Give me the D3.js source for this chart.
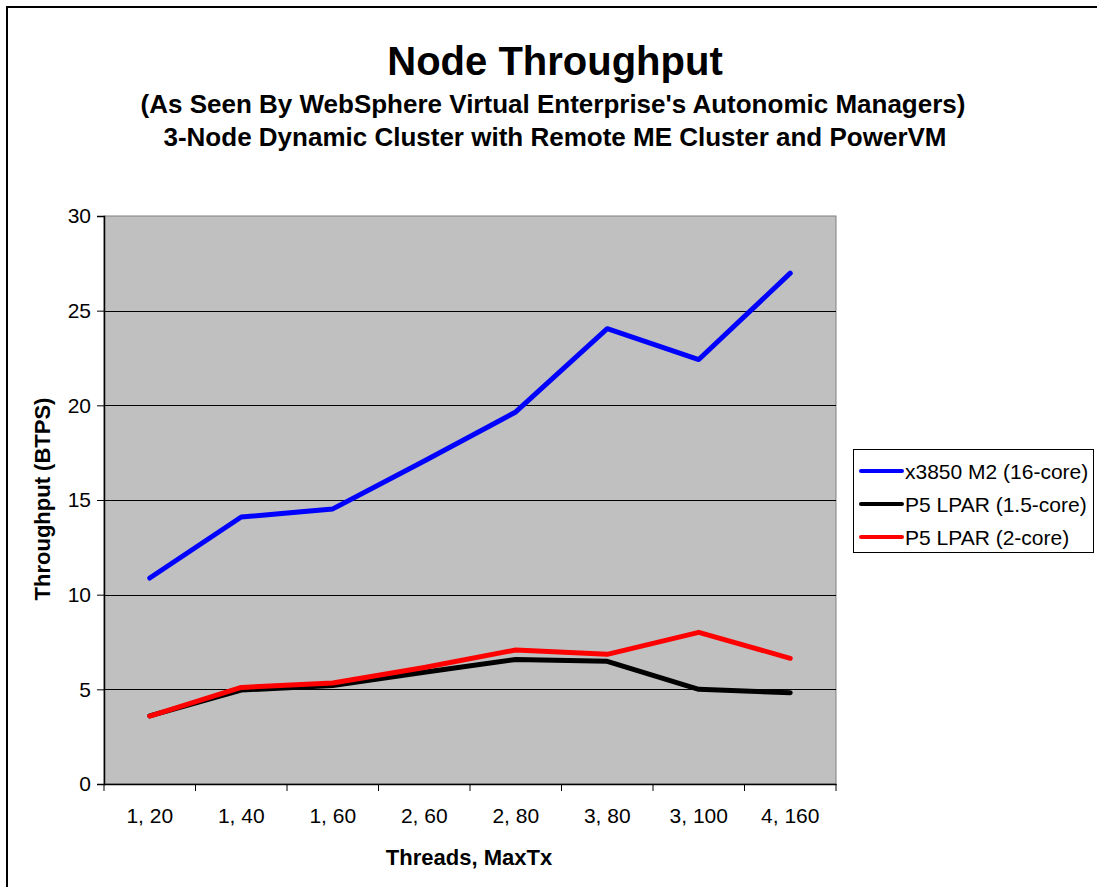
<!DOCTYPE html>
<html>
<head>
<meta charset="utf-8">
<script src="https://cdn.jsdelivr.net/npm/d3@7"></script>
<style>
  body { margin: 0; background: #fff; }
  svg { display: block; font-family: "Liberation Sans", Arial, sans-serif; }
</style>
</head>
<body>
<div id="chart"></div>
<script>
var categories = ["1, 20", "1, 40", "1, 60", "2, 60", "2, 80", "3, 80", "3, 100", "4, 160"];
var x3850 = [10.88, 14.1, 14.53, 17.06, 19.65, 24.05, 22.42, 26.98];
var p5Core15 = [3.6, 4.96, 5.2, 5.9, 6.58, 6.48, 5.0, 4.82];
var p5Core2 = [3.59, 5.1, 5.33, 6.15, 7.08, 6.85, 8.01, 6.64];
var seriesNames = ["x3850 M2 (16-core)", "P5 LPAR (1.5-core)", "P5 LPAR (2-core)"];
var seriesColors = ["#0000ff", "#000000", "#ff0000"];
var yTicks = [0, 5, 10, 15, 20, 25, 30];

var W = 1097, H = 887;
var plot = { left: 104, top: 216, right: 836, bottom: 784 };
var FONT = "Liberation Sans, Arial, sans-serif";

var svg = d3.select("#chart").append("svg")
  .attr("width", W)
  .attr("height", H);

// outer frame (runs off the right and bottom edges)
svg.append("rect")
  .attr("x", 7).attr("y", 7)
  .attr("width", W + 20).attr("height", H + 20)
  .attr("fill", "#fff")
  .attr("stroke", "#000")
  .attr("stroke-width", 2);

var x = d3.scaleBand()
  .domain(categories)
  .range([plot.left, plot.right]);

var y = d3.scaleLinear()
  .domain([0, 30])
  .range([plot.bottom, plot.top]);

// plot background
svg.append("rect")
  .attr("x", plot.left).attr("y", plot.top)
  .attr("width", plot.right - plot.left)
  .attr("height", plot.bottom - plot.top)
  .attr("fill", "#c0c0c0")
  .attr("stroke", "#808080")
  .attr("stroke-width", 1);

// gridlines
svg.append("g")
  .selectAll("line")
  .data(yTicks.filter(function(d) { return d > 0 && d < 30; }))
  .enter().append("line")
  .attr("x1", plot.left).attr("x2", plot.right)
  .attr("y1", function(d) { return Math.round(y(d)) + 0.5; })
  .attr("y2", function(d) { return Math.round(y(d)) + 0.5; })
  .attr("stroke", "#000")
  .attr("stroke-width", 1);

// y axis
var yAxis = svg.append("g")
  .attr("transform", "translate(" + plot.left + ",0)")
  .call(d3.axisLeft(y).tickValues(yTicks).tickSize(7).tickPadding(6));
yAxis.selectAll("text").attr("font-size", 21).attr("fill", "#000")
  .attr("font-family", FONT);
yAxis.selectAll("line").attr("stroke", "#000");
yAxis.select(".domain").attr("stroke", "#000").attr("stroke-width", 1.5);

// x axis with ticks between categories
var xAxis = svg.append("g")
  .attr("transform", "translate(0," + plot.bottom + ")")
  .call(d3.axisBottom(x).tickSize(0).tickPadding(24));
xAxis.selectAll("text").attr("font-size", 21).attr("fill", "#000")
  .attr("font-family", FONT);
xAxis.select(".domain").attr("stroke", "#000").attr("stroke-width", 1.5);
xAxis.selectAll(".sep")
  .data(categories.concat(["end"]))
  .enter().append("line")
  .attr("class", "sep")
  .attr("x1", function(d, i) { return plot.left + i * x.step(); })
  .attr("x2", function(d, i) { return plot.left + i * x.step(); })
  .attr("y1", 0).attr("y2", 7)
  .attr("stroke", "#000");

// lines
var allSeries = [x3850, p5Core15, p5Core2];
var line = d3.line()
  .x(function(d, i) { return x(categories[i]) + x.bandwidth() / 2; })
  .y(function(d) { return y(d); });

// black first, then red, then blue like the original overlap
[1, 2, 0].forEach(function(k) {
  svg.append("path")
    .datum(allSeries[k])
    .attr("d", line)
    .attr("fill", "none")
    .attr("stroke", seriesColors[k])
    .attr("stroke-width", 5)
    .attr("stroke-linejoin", "round")
    .attr("stroke-linecap", "round");
});

// titles
svg.append("text")
  .attr("x", 555).attr("y", 75)
  .attr("text-anchor", "middle")
  .attr("font-size", 40).attr("font-weight", "bold")
  .text("Node Throughput");
svg.append("text")
  .attr("x", 553).attr("y", 113)
  .attr("text-anchor", "middle")
  .attr("font-size", 26).attr("font-weight", "bold")
  .text("(As Seen By WebSphere Virtual Enterprise's Autonomic Managers)");
svg.append("text")
  .attr("x", 555).attr("y", 146)
  .attr("text-anchor", "middle")
  .attr("font-size", 26).attr("font-weight", "bold")
  .text("3-Node Dynamic Cluster with Remote ME Cluster and PowerVM");

// axis titles
svg.append("text")
  .attr("transform", "translate(50,499) rotate(-90)")
  .attr("text-anchor", "middle")
  .attr("font-size", 22).attr("font-weight", "bold")
  .text("Throughput (BTPS)");
svg.append("text")
  .attr("x", 469).attr("y", 865)
  .attr("text-anchor", "middle")
  .attr("font-size", 22).attr("font-weight", "bold")
  .text("Threads, MaxTx");

// legend
var legend = svg.append("g").attr("transform", "translate(853,449)");
legend.append("rect")
  .attr("x", 0.5).attr("y", 0.5)
  .attr("width", 240).attr("height", 103)
  .attr("fill", "#fff")
  .attr("stroke", "#000");
seriesNames.forEach(function(name, i) {
  var ly = 22 + i * 33;
  legend.append("line")
    .attr("x1", 8).attr("x2", 49)
    .attr("y1", ly).attr("y2", ly)
    .attr("stroke", seriesColors[i])
    .attr("stroke-width", 4)
    .attr("stroke-linecap", "round");
  legend.append("text")
    .attr("x", 52).attr("y", ly + 7.5)
    .attr("font-size", 21)
    .text(name);
});
</script>
</body>
</html>
